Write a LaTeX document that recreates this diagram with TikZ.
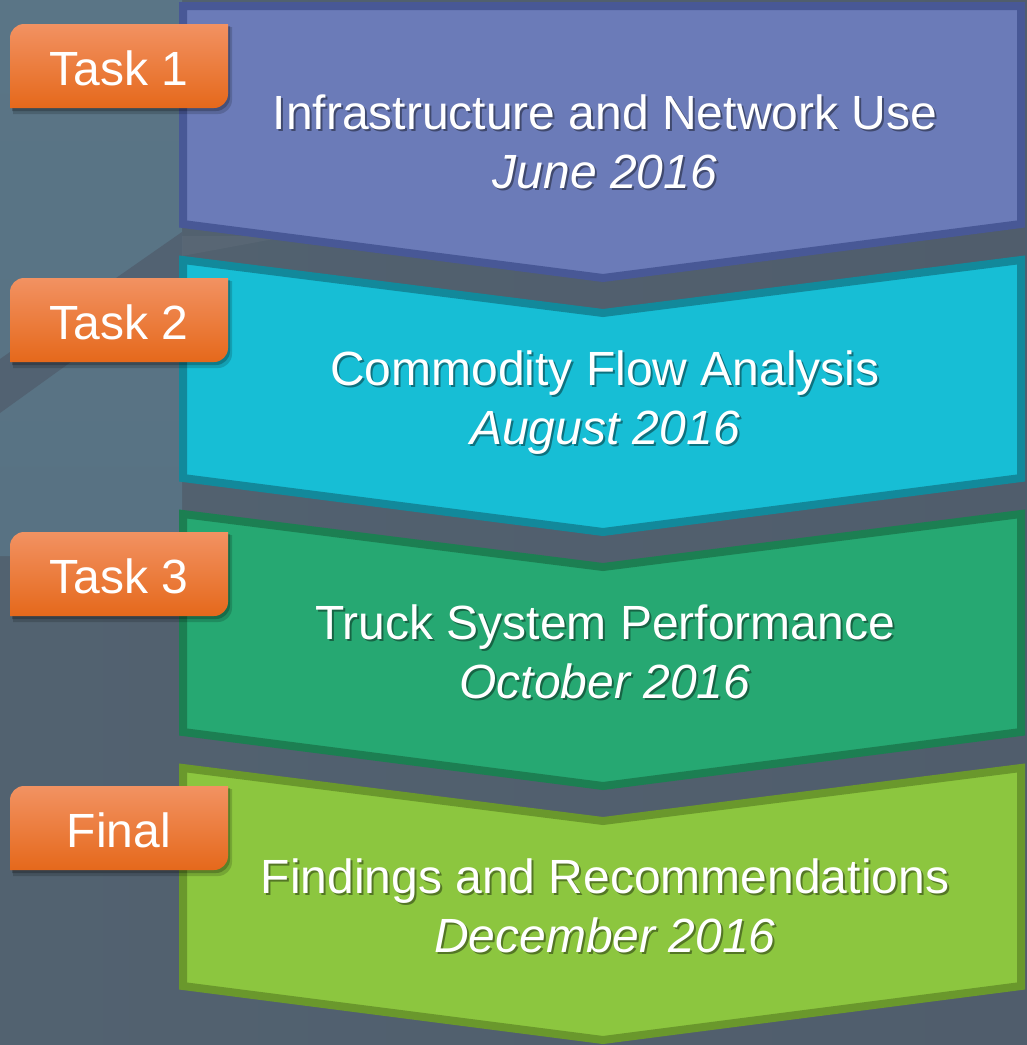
\documentclass[tikz,border=0pt]{standalone}
\usepackage{fontspec}
\setmainfont{Liberation Sans}
\usetikzlibrary{calc}
\definecolor{bgdark}{HTML}{505D6C}
\definecolor{bggap}{HTML}{526270}
\definecolor{bglight}{HTML}{587283}
\definecolor{bglighttop}{HTML}{5A7586}
\definecolor{bgstrip}{HTML}{526272}
\definecolor{c1fill}{HTML}{6B7BB8}
\definecolor{c1line}{HTML}{485896}
\definecolor{c2fill}{HTML}{17BED5}
\definecolor{c2line}{HTML}{12899B}
\definecolor{c3fill}{HTML}{26A872}
\definecolor{c3line}{HTML}{1C7F52}
\definecolor{c4fill}{HTML}{8CC63F}
\definecolor{c4line}{HTML}{6A982C}
\definecolor{labtop}{HTML}{F29262}
\definecolor{labmid}{HTML}{F37E2C}
\definecolor{labbot}{HTML}{E5681B}
\tikzset{
  chev/.style={line width=8pt, line join=miter},
  titletext/.style={anchor=base, text=white, font=\fontsize{48}{58}\selectfont, inner sep=0pt},
  datetext/.style={anchor=base, text=white, font=\fontsize{48}{58}\selectfont\itshape, inner sep=0pt},
  shadowtext/.style={text=black, opacity=0.4},
  labtext/.style={anchor=base, text=white, font=\fontsize{48}{58}\selectfont, inner sep=0pt},
}
\newcommand\labelbox[3]{%
  \fill[black, opacity=0.16] (13,#2+84+6) -- (13,#2+14+3) .. controls (13,#2+6.3+3) and (19.3,#2+3) .. (27,#2+3) -- (232,#2+3) -- (232,#2+70+6) .. controls (232,#2+77.7+6) and (225.7,#2+84+6) .. (218,#2+84+6) -- cycle;
  \fill[black, opacity=0.22] (12,#2+84+3) -- (12,#2+14+2) .. controls (12,#2+6.3+2) and (18.3,#2+2) .. (26,#2+2) -- (230,#2+2) -- (230,#2+70+3) .. controls (230,#2+77.7+3) and (223.7,#2+84+3) .. (216,#2+84+3) -- cycle;
  \shade[top color=labtop, middle color=labmid, bottom color=labbot] (10,#2+84) -- (10,#2+14) .. controls (10,#2+6.3) and (16.3,#2) .. (24,#2) -- (228,#2) -- (228,#2+70) .. controls (228,#2+77.7) and (221.7,#2+84) .. (214,#2+84) -- cycle;
  \node[labtext] (#1) at (119,#2+61) {#3};
}
\newcommand\chevtext[4]{%
  \node[titletext, shadowtext] (#1s) at (607,#2+131.5) {#3};
  \node[titletext] (#1) at (605,#2+129) {#3};
  \node[datetext, shadowtext] (#1ds) at (607,#2+190.5) {#4};
  \node[datetext] (#1d) at (605,#2+188) {#4};
}
\begin{document}
\begin{tikzpicture}[x=1pt,y=-1pt]
\useasboundingbox (0,0) rectangle (1027,1045);
% background
\shade[left color=bggap, right color=bgdark] (0,0) rectangle (1027,1045);
\shade[top color=bglighttop, bottom color=bglight] (0,0) -- (182,0) -- (182,560) -- (0,556) -- cycle;
\fill[bgstrip] (0,359) -- (182,232) -- (182,282) -- (0,413) -- cycle;
\fill[white, opacity=0.035] (182,236) -- (290,236) -- (182,256) -- cycle;
% chevrons
\filldraw[chev, fill=c1fill, draw=c1line] (183,6) -- (1021,6) -- (1021,224) -- (603,278) -- (183,224) -- cycle;
\filldraw[chev, fill=c2fill, draw=c2line] (183,260) -- (603,313) -- (1021,260) -- (1021,478) -- (603,532) -- (183,478) -- cycle;
\filldraw[chev, fill=c3fill, draw=c3line] (183,514) -- (603,567) -- (1021,514) -- (1021,732) -- (603,786) -- (183,732) -- cycle;
\filldraw[chev, fill=c4fill, draw=c4line] (183,768) -- (603,821) -- (1021,768) -- (1021,986) -- (603,1040) -- (183,986) -- cycle;
% texts
\chevtext{ta}{0}{Infrastructure and Network Use}{June 2016}
\chevtext{tb}{256}{Commodity Flow Analysis}{August 2016}
\chevtext{tc}{510}{Truck System Performance}{October 2016}
\chevtext{td}{764}{Findings and Recommendations}{December 2016}
% labels
\labelbox{la}{24}{Task 1}
\labelbox{lb}{278}{Task 2}
\labelbox{lc}{532}{Task 3}
\labelbox{ld}{786}{Final}
\end{tikzpicture}
\end{document}
